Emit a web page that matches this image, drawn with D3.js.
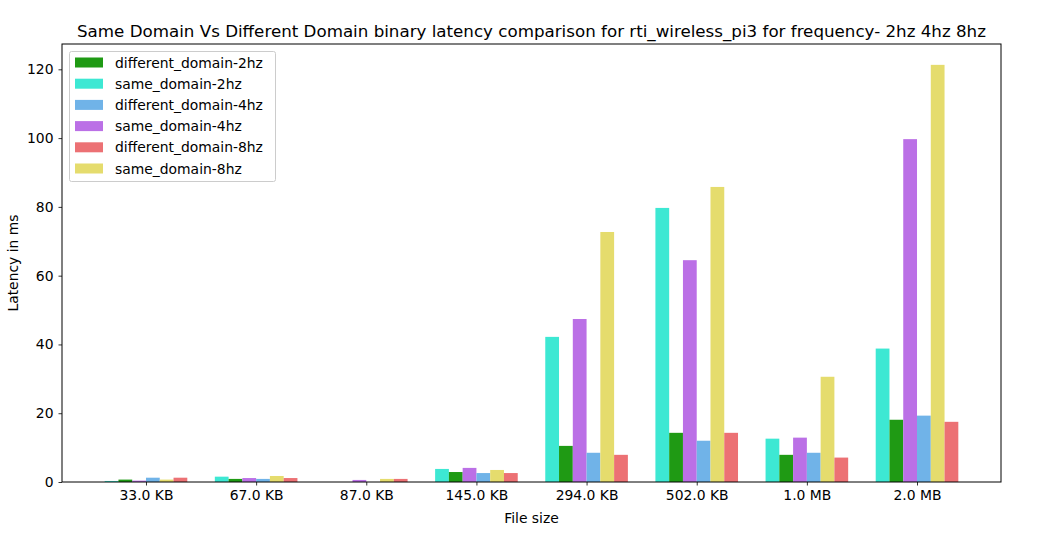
<!DOCTYPE html>
<html><head><meta charset="utf-8">
<script src="https://cdn.jsdelivr.net/npm/d3@7"></script>
<style>
body{margin:0;background:#fff;}
svg{display:block;font-family:"DejaVu Sans",sans-serif;}
</style></head>
<body><svg id="chart" width="1050" height="542"></svg>
<script>
const categories = ["33.0 KB","67.0 KB","87.0 KB","145.0 KB","294.0 KB","502.0 KB","1.0 MB","2.0 MB"];
const sameDomain2hz = [0.3, 1.55, 0, 3.8, 42.2, 79.7, 12.6, 38.8];
const differentDomain2hz = [0.7, 0.9, 0, 2.9, 10.5, 14.3, 7.9, 18.1];
const sameDomain4hz = [0.4, 1.15, 0.6, 4.1, 47.4, 64.5, 12.9, 99.7];
const differentDomain4hz = [1.25, 0.9, 0, 2.6, 8.5, 12.0, 8.5, 19.3];
const sameDomain8hz = [0.7, 1.75, 0.9, 3.5, 72.7, 85.8, 30.6, 121.3];
const differentDomain8hz = [1.25, 1.15, 0.9, 2.6, 7.9, 14.3, 7.1, 17.5];
const yTicks = [0, 20, 40, 60, 80, 100, 120];

// drawing order within each group (left to right)
const series = [
  {name:"same_domain-2hz", values:sameDomain2hz, color:"#3de8d3"},
  {name:"different_domain-2hz", values:differentDomain2hz, color:"#1f9a14"},
  {name:"same_domain-4hz", values:sameDomain4hz, color:"#bb70e6"},
  {name:"different_domain-4hz", values:differentDomain4hz, color:"#70b3e8"},
  {name:"same_domain-8hz", values:sameDomain8hz, color:"#e5dc6d"},
  {name:"different_domain-8hz", values:differentDomain8hz, color:"#ec7174"}
];
const legendOrder = ["different_domain-2hz","same_domain-2hz","different_domain-4hz","same_domain-4hz","different_domain-8hz","same_domain-8hz"];

const svg = d3.select("#chart");
const L = 62, R = 1001, T = 44, B = 482;
const barW = 0.125;
const n = categories.length;
const allMax = d3.max(series.flatMap(s => s.values));
const xLo = -3*barW, xHi = (n-1) + 3*barW;
const xPad = (xHi - xLo) * 0.05;
const x = d3.scaleLinear().domain([xLo - xPad, xHi + xPad]).range([L, R]);
const y = d3.scaleLinear().domain([0, allMax * 1.05]).range([B, T]);

// bars
series.forEach((s, si) => {
  const off = (si - 2.5) * barW;
  svg.append("g").selectAll("rect").data(s.values).join("rect")
    .attr("x", (d, i) => x(i + off - barW/2))
    .attr("width", (d, i) => x(i + off + barW/2) - x(i + off - barW/2))
    .attr("y", d => y(d))
    .attr("height", d => y(0) - y(d))
    .attr("fill", s.color);
});

// axes
const xAxis = d3.axisBottom(x).tickValues(d3.range(n)).tickFormat(i => categories[i]).tickSize(3.5).tickPadding(5);
const gx = svg.append("g").attr("transform", `translate(0,${B})`).call(xAxis);
const yAxis = d3.axisLeft(y).tickValues(yTicks).tickSize(3.5).tickPadding(5);
const gy = svg.append("g").attr("transform", `translate(${L},0)`).call(yAxis);
[gx, gy].forEach(g => {
  g.select(".domain").remove();
  g.selectAll("text").attr("font-size", "13.9px").attr("fill", "#000").attr("font-family", "DejaVu Sans, sans-serif");
  g.selectAll("line").attr("stroke", "#000").attr("stroke-width", 0.8);
});

// frame
svg.append("rect").attr("x", L).attr("y", T).attr("width", R - L).attr("height", B - T)
  .attr("fill", "none").attr("stroke", "#000").attr("stroke-width", 1);

// title & labels
svg.append("text").attr("x", (L + R) / 2).attr("y", 37).attr("text-anchor", "middle")
  .attr("font-size", "16.7px").text("Same Domain Vs Different Domain binary latency comparison for rti_wireless_pi3 for frequency- 2hz 4hz 8hz");
svg.append("text").attr("x", (L + R) / 2).attr("y", 523).attr("text-anchor", "middle")
  .attr("font-size", "13.9px").text("File size");
svg.append("text").attr("transform", `translate(18,${(T + B) / 2}) rotate(-90)`).attr("text-anchor", "middle")
  .attr("font-size", "13.9px").text("Latency in ms");

// legend
const lg = svg.append("g");
lg.append("rect").attr("x", 69.5).attr("y", 51.5).attr("width", 206).attr("height", 130)
  .attr("rx", 2).attr("fill", "#fff").attr("fill-opacity", 0.8).attr("stroke", "#ccc").attr("stroke-width", 1);
legendOrder.forEach((name, k) => {
  const s = series.find(t => t.name === name);
  const cy = 62.5 + k * 21.2;
  lg.append("rect").attr("x", 75).attr("y", cy - 5).attr("width", 28).attr("height", 10).attr("fill", s.color);
  lg.append("text").attr("x", 115).attr("y", cy + 5).attr("font-size", "13.9px").text(name);
});
</script>
</body></html>
